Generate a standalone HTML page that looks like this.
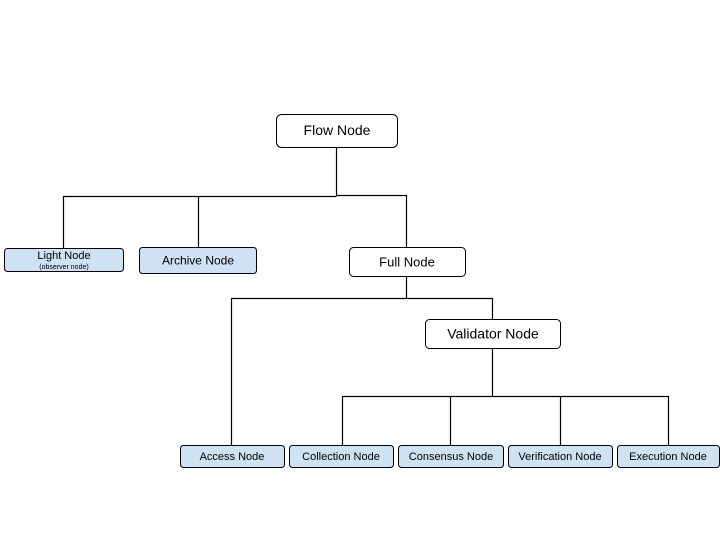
<!DOCTYPE html>
<html><head><style>body{margin:0;background:#fff}</style></head><body>
<svg width="720" height="540" xmlns="http://www.w3.org/2000/svg" font-family="Liberation Sans, sans-serif">
<rect width="720" height="540" fill="#fff"/>
<g stroke="#000" stroke-width="1.2" fill="none">
<path d="M336.5 147V196M63.5 249V196.5H336.5M198.5 196.5V247M336.5 195.5H406.5V247"/>
<path d="M406.5 276V298.5M231.5 445V298.5H492.5V319"/>
<path d="M492.5 348V396.5M342.5 445V396.5H668.5V445M450.5 396.5V445M560.5 396.5V445"/>
</g>
<g stroke="#000" stroke-width="1">
<rect x="276.5" y="114.5" width="121" height="33" rx="5" fill="#fff"/>
<rect x="4.5" y="248.5" width="119" height="23" rx="3" fill="#cfe2f3"/>
<rect x="139.5" y="247.5" width="117" height="26" rx="3" fill="#cfe2f3"/>
<rect x="349.5" y="247.5" width="116" height="29" rx="4" fill="#fff"/>
<rect x="425.5" y="319.5" width="135" height="29" rx="4" fill="#fff"/>
<rect x="180.5" y="445.5" width="104" height="22" rx="3" fill="#cfe2f3"/>
<rect x="289.5" y="445.5" width="104" height="22" rx="3" fill="#cfe2f3"/>
<rect x="398.5" y="445.5" width="105" height="22" rx="3" fill="#cfe2f3"/>
<rect x="508.5" y="445.5" width="104" height="22" rx="3" fill="#cfe2f3"/>
<rect x="617.5" y="445.5" width="102" height="22" rx="3" fill="#cfe2f3"/>
</g>
<g text-anchor="middle" fill="#000">
<text x="337" y="135" font-size="14">Flow Node</text>
<text x="64" y="259" font-size="11">Light Node</text>
<text x="64" y="269" font-size="7">(observer node)</text>
<text x="198" y="264.5" font-size="12">Archive Node</text>
<text x="407" y="266.5" font-size="13">Full Node</text>
<text x="493" y="338.5" font-size="14">Validator Node</text>
<text x="232" y="460" font-size="11">Access Node</text>
<text x="341" y="460" font-size="11">Collection Node</text>
<text x="451" y="460" font-size="11">Consensus Node</text>
<text x="560" y="460" font-size="11">Verification Node</text>
<text x="668" y="460" font-size="11">Execution Node</text>
</g>
</svg>
</body></html>
